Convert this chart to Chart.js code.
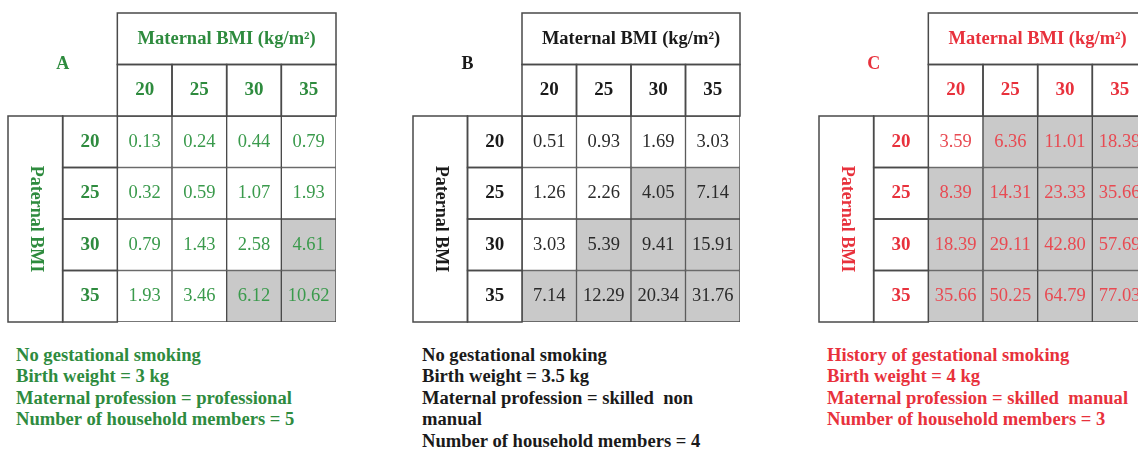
<!DOCTYPE html>
<html>
<head>
<meta charset="utf-8">
<script src="https://cdn.jsdelivr.net/npm/chart.js@4/dist/chart.umd.min.js"></script>
<style>
html, body { margin:0; padding:0; background:#fff; overflow:hidden; width:1138px; height:450px; }
canvas { position:absolute; }
.note { position:absolute; top:344px; font:bold 18.6px "Liberation Serif", "Times New Roman", serif; line-height:21.4px; white-space:pre; }
</style>
</head>
<body>
<canvas id="chartA" width="330" height="311" style="left:7px;top:12px"></canvas>
<canvas id="chartB" width="329" height="311" style="left:412px;top:12px"></canvas>
<canvas id="chartC" width="330" height="311" style="left:818px;top:12px"></canvas>
<div class="note" id="noteA" style="left:16px;color:#2e8b3e"></div>
<div class="note" id="noteB" style="left:422px;color:#1a1a1a"></div>
<div class="note" id="noteC" style="left:827px;color:#e8313c"></div>

<script>
// axis categories
var maternalBMI = ['20', '25', '30', '35'];
var paternalBMI = ['20', '25', '30', '35'];
var panelLetters = ['A', 'B', 'C'];

// predicted risk (%) - rows = paternal BMI, cols = maternal BMI
var riskA = [
  [0.13, 0.24, 0.44, 0.79],
  [0.32, 0.59, 1.07, 1.93],
  [0.79, 1.43, 2.58, 4.61],
  [1.93, 3.46, 6.12, 10.62]
];
var riskB = [
  [0.51, 0.93, 1.69, 3.03],
  [1.26, 2.26, 4.05, 7.14],
  [3.03, 5.39, 9.41, 15.91],
  [7.14, 12.29, 20.34, 31.76]
];
var riskC = [
  [3.59, 6.36, 11.01, 18.39],
  [8.39, 14.31, 23.33, 35.66],
  [18.39, 29.11, 42.80, 57.69],
  [35.66, 50.25, 64.79, 77.03]
];
// cells at or above this value are shaded grey
var highRiskCutoff = 4;

var notesA = ['No gestational smoking', 'Birth weight = 3 kg', 'Maternal profession = professional', 'Number of household members = 5'];
var notesB = ['No gestational smoking', 'Birth weight = 3.5 kg', 'Maternal profession = skilled  non', 'manual', 'Number of household members = 4'];
var notesC = ['History of gestational smoking', 'Birth weight = 4 kg', 'Maternal profession = skilled  manual', 'Number of household members = 3'];

var SERIF = '"Liberation Serif", "Times New Roman", serif';
var LINE = '#4a4a4a';

// draws header boxes, labels and cell values from the scales
var tableText = {
  id: 'tableText',
  afterDatasetsDraw: function(chart) {
    var o = chart.options.plugins.tableText;
    var x = chart.scales.x, y = chart.scales.y;
    var cw = x.width / x.getLabels().length;
    var left = function(i) { return x.getPixelForValue(i) - cw / 2; };
    var ctx = chart.ctx;
    ctx.save();
    ctx.strokeStyle = LINE;
    ctx.lineWidth = 1.5;
    ctx.textAlign = 'center';
    ctx.textBaseline = 'middle';

    // header box "Maternal BMI"
    var hx0 = left(2), hx1 = left(5) + cw;
    ctx.strokeRect(hx0, y.getPixelForValue(0), hx1 - hx0, y.getPixelForValue(1) - y.getPixelForValue(0));
    ctx.fillStyle = o.headColor;
    ctx.font = 'bold 18.5px ' + SERIF;
    ctx.fillText('Maternal BMI (kg/m\u00B2)', (hx0 + hx1) / 2, y.getPixelForValue(0.5));

    // column labels
    maternalBMI.forEach(function(m, j) {
      var cx = left(j + 2);
      ctx.strokeRect(cx, y.getPixelForValue(1), cw, y.getPixelForValue(2) - y.getPixelForValue(1));
      ctx.font = 'bold 19px ' + SERIF;
      ctx.fillText(m, cx + cw / 2, y.getPixelForValue(1.5));
    });

    // left box "Paternal BMI"
    var py0 = y.getPixelForValue(2), py1 = y.getPixelForValue(6);
    ctx.strokeRect(left(0), py0, cw, py1 - py0);
    ctx.save();
    ctx.translate(left(0) + cw / 2, (py0 + py1) / 2);
    ctx.rotate(Math.PI / 2);
    ctx.font = 'bold 18px ' + SERIF;
    ctx.fillText('Paternal BMI', 0, 0);
    ctx.restore();

    // row labels
    paternalBMI.forEach(function(p, i) {
      var ry0 = y.getPixelForValue(i + 2), ry1 = y.getPixelForValue(i + 3);
      ctx.strokeRect(left(1), ry0, cw, ry1 - ry0);
      ctx.font = 'bold 19px ' + SERIF;
      ctx.fillText(p, left(1) + cw / 2, (ry0 + ry1) / 2);
    });

    // panel letter
    ctx.font = 'bold 18px ' + SERIF;
    ctx.fillText(o.letter, left(1), y.getPixelForValue(1));

    // cell values
    ctx.fillStyle = o.valueColor;
    ctx.font = '18.5px ' + SERIF;
    o.values.forEach(function(row, i) {
      row.forEach(function(v, j) {
        ctx.fillText(v.toFixed(2), x.getPixelForValue(j + 2), y.getPixelForValue(i + 2.5));
      });
    });
    ctx.restore();
  }
};

function makePanel(id, values, letter, headColor, valueColor) {
  var labels = ['', ''].concat(maternalBMI);
  var datasets = values.map(function(row, i) {
    return {
      label: 'Paternal BMI ' + paternalBMI[i],
      data: [null, null].concat(row.map(function() { return [i + 2, i + 3]; })),
      backgroundColor: [null, null].concat(row.map(function(v) { return v >= highRiskCutoff ? '#c9c9c9' : '#ffffff'; })),
      borderColor: LINE,
      borderWidth: 1,
      borderSkipped: false,
      barPercentage: 1,
      categoryPercentage: 1,
      grouped: false
    };
  });
  return new Chart(document.getElementById(id), {
    type: 'bar',
    data: { labels: labels, datasets: datasets },
    options: {
      responsive: false,
      animation: false,
      layout: { padding: 1 },
      scales: {
        x: { display: false, offset: true },
        y: { display: false, min: 0, max: 6, reverse: true }
      },
      plugins: {
        legend: { display: false },
        tooltip: { enabled: false },
        tableText: { letter: letter, values: values, headColor: headColor, valueColor: valueColor }
      }
    },
    plugins: [tableText]
  });
}

makePanel('chartA', riskA, panelLetters[0], '#2e8b3e', '#3a9a4c');
makePanel('chartB', riskB, panelLetters[1], '#1a1a1a', '#2a2a2a');
makePanel('chartC', riskC, panelLetters[2], '#e8313c', '#e84a52');

document.getElementById('noteA').textContent = notesA.join('\n');
document.getElementById('noteB').textContent = notesB.join('\n');
document.getElementById('noteC').textContent = notesC.join('\n');
</script>
</body>
</html>
